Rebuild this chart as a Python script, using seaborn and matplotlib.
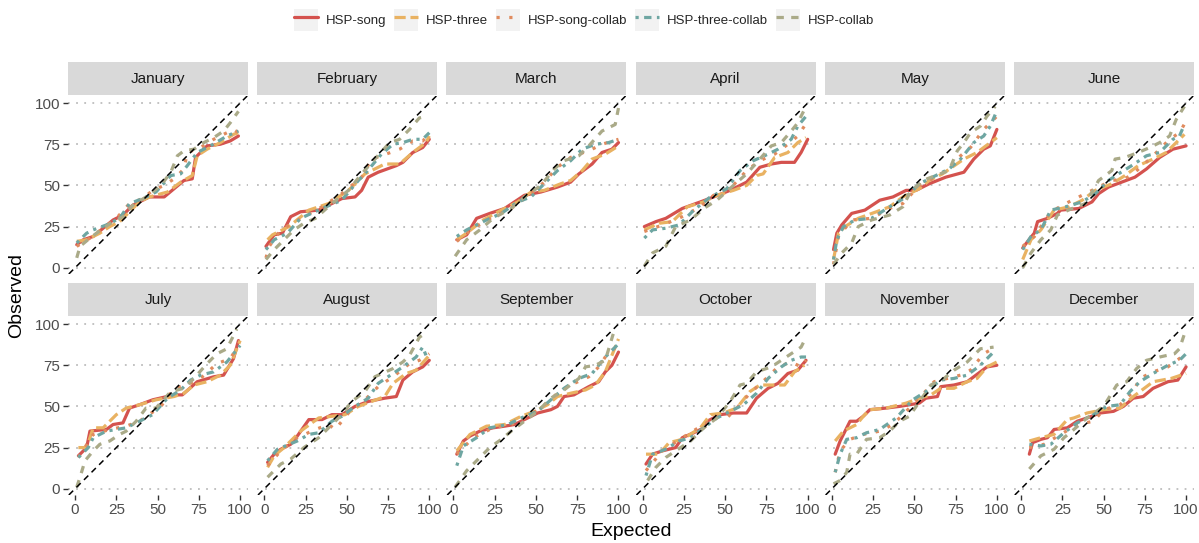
import matplotlib
matplotlib.use("Agg")
import matplotlib.pyplot as plt
import pandas as pd
import seaborn as sns
from matplotlib.lines import Line2D
from matplotlib.patches import Rectangle
from matplotlib.legend_handler import HandlerLine2D

MONTHS = ["January", "February", "March", "April", "May", "June",
          "July", "August", "September", "October", "November", "December"]
SERIES = ["HSP-song", "HSP-three", "HSP-song-collab", "HSP-three-collab", "HSP-collab"]
TICKS = [0, 25, 50, 75, 100]

# (expected, observed) points
SONG = {
    "January": [(1,14),(5,17),(11,19),(17,24),(23,29),(29,32),(35,38),(39,40),(45,43),(54,43),(60,48),(66,53),(71,54),(73,67),(80,74),(88,75),(94,77),(99,80)],
    "February": [(1,13),(6,20),(11,21),(16,31),(22,34),(33,35),(39,38),(47,42),(55,43),(59,47),(63,55),(69,58),(80,62),(84,64),(90,70),(96,73),(100,78)],
    "March": [(2,17),(8,20),(14,30),(22,33),(31,36),(37,40),(43,44),(53,46),(63,49),(71,52),(76,57),(84,63),(90,70),(96,72),(100,76)],
    "April": [(1,25),(8,28),(14,30),(24,36),(35,40),(43,43),(53,47),(63,52),(71,61),(78,63),(84,64),(92,64),(96,70),(100,78)],
    "May": [(1,11),(3,21),(6,26),(12,33),(20,35),(29,41),(37,43),(45,47),(51,47),(59,51),(69,55),(80,58),(86,66),(92,72),(96,74),(100,84)],
    "June": [(1,12),(4,16),(8,21),(10,28),(16,30),(22,33),(24,35),(35,36),(43,40),(47,45),(53,49),(61,52),(69,55),(76,60),(84,67),(92,72),(100,74)],
    "July": [(2,20),(7,25),(9,35),(19,36),(23,39),(29,40),(33,49),(39,51),(47,54),(60,57),(65,57),(74,65),(84,68),(90,69),(96,79),(99,90)],
    "August": [(2,16),(6,21),(10,24),(16,27),(20,32),(27,42),(35,42),(41,45),(47,45),(55,50),(63,53),(73,55),(80,56),(84,66),(90,71),(96,74),(100,78)],
    "September": [(2,21),(6,29),(10,32),(16,35),(24,37),(31,38),(37,39),(45,43),(51,46),(59,48),(63,50),(67,56),(73,57),(82,62),(88,65),(92,71),(96,75),(100,83)],
    "October": [(2,15),(6,21),(12,23),(20,25),(24,31),(31,34),(37,37),(39,41),(47,45),(55,46),(63,46),(69,55),(76,61),(82,64),(88,70),(94,72),(99,78)],
    "November": [(2,21),(5,29),(11,41),(15,41),(19,44),(23,48),(33,49),(41,50),(47,51),(53,52),(57,55),(64,56),(66,62),(74,63),(82,65),(90,71),(94,74),(100,75)],
    "December": [(5,21),(7,28),(12,30),(16,31),(20,36),(28,37),(34,41),(40,43),(48,46),(56,47),(62,50),(68,55),(74,56),(80,61),(89,65),(95,66),(100,74)],
}
THREE = {
    "January": [(1,16),(7,17),(15,21),(21,25),(27,28),(33,34),(39,40),(45,43),(56,46),(64,52),(71,56),(74,68),(80,72),(88,76),(96,81),(99,82)],
    "February": [(2,17),(5,20),(15,25),(27,35),(39,39),(51,47),(61,57),(73,63),(82,63),(90,70),(98,76),(100,80)],
    "March": [(2,17),(8,21),(18,29),(29,35),(39,40),(47,46),(55,47),(65,51),(71,53),(78,59),(84,66),(92,69),(100,74)],
    "April": [(1,23),(10,27),(18,28),(27,37),(37,40),(45,44),(55,47),(63,50),(69,56),(73,57),(80,67),(88,70),(94,76),(99,79)],
    "May": [(1,5),(4,21),(8,25),(16,30),(27,34),(35,37),(43,43),(53,48),(59,53),(67,57),(80,66),(88,70),(96,76),(100,79)],
    "June": [(1,5),(6,17),(12,23),(20,35),(29,37),(37,41),(45,47),(55,51),(63,56),(71,62),(80,66),(88,70),(94,76),(99,81)],
    "July": [(2,25),(7,25),(11,37),(17,37),(25,45),(31,49),(39,51),(49,54),(60,56),(66,58),(72,63),(80,65),(88,69),(94,75),(100,90)],
    "August": [(2,13),(6,20),(12,25),(22,35),(33,43),(41,44),(49,45),(57,50),(65,53),(73,56),(78,64),(86,70),(92,72),(100,81)],
    "September": [(2,23),(10,33),(20,38),(31,39),(41,44),(49,47),(57,51),(63,56),(71,58),(80,60),(86,63),(92,71),(96,81),(100,91)],
    "October": [(2,21),(10,21),(16,28),(24,30),(35,37),(41,45),(49,46),(57,49),(65,59),(71,63),(80,63),(86,63),(92,71),(98,75)],
    "November": [(2,29),(7,35),(15,39),(19,44),(23,48),(33,49),(45,52),(53,55),(60,57),(66,61),(74,61),(82,65),(88,67),(94,74),(100,77)],
    "December": [(5,29),(12,31),(20,33),(28,42),(32,43),(40,46),(50,48),(60,49),(68,56),(80,65),(91,67),(100,70)],
}
SONG_COLLAB = {
    "January": [(1,13),(9,18),(17,24),(25,30),(33,39),(41,42),(47,47),(54,50),(60,54),(66,60),(68,70),(76,73),(84,78),(96,84),(99,82)],
    "February": [(1,6),(3,13),(10,23),(24,31),(35,37),(47,45),(59,55),(65,66),(71,68),(82,72),(90,77),(96,77),(100,81)],
    "March": [(2,16),(12,24),(24,31),(35,36),(47,45),(55,52),(63,61),(71,67),(84,72),(90,75),(100,78)],
    "April": [(1,22),(12,26),(22,30),(35,37),(43,44),(53,48),(63,59),(71,65),(80,69),(88,75),(94,80),(98,86),(100,89)],
    "May": [(1,2),(4,19),(12,29),(24,30),(35,36),(43,39),(53,50),(63,55),(71,60),(78,68),(84,73),(92,84),(96,88),(100,92)],
    "June": [(1,13),(8,19),(18,34),(29,40),(37,44),(47,49),(55,53),(63,54),(69,58),(78,66),(84,72),(90,78),(96,82),(100,89)],
    "July": [(2,19),(11,33),(21,36),(31,38),(39,41),(52,50),(60,61),(68,63),(76,67),(86,76),(94,79),(99,87)],
    "August": [(2,14),(10,23),(20,31),(31,36),(39,39),(43,36),(51,46),(61,54),(69,62),(78,68),(88,76),(94,78),(100,82)],
    "September": [(2,21),(12,31),(24,37),(35,39),(43,43),(53,49),(63,58),(71,63),(82,68),(88,74),(94,83),(99,86)],
    "October": [(2,11),(12,23),(24,31),(37,39),(45,44),(51,43),(57,49),(65,58),(76,68),(82,74),(90,77),(96,74),(99,78)],
    "November": [(2,10),(5,23),(11,30),(19,33),(29,35),(37,39),(45,47),(53,55),(62,65),(70,67),(78,69),(84,72),(92,82),(99,86)],
    "December": [(5,25),(14,27),(24,33),(34,39),(44,41),(50,48),(60,51),(68,59),(72,67),(80,71),(89,74),(100,82)],
}
THREE_COLLAB = {
    "January": [(1,15),(7,21),(11,23),(19,26),(27,30),(33,39),(41,42),(49,46),(58,56),(64,57),(68,62),(74,70),(82,74),(92,80),(99,83)],
    "February": [(1,11),(6,17),(14,21),(22,30),(35,36),(47,41),(57,53),(61,57),(71,69),(78,75),(84,76),(90,78),(96,78),(100,82)],
    "March": [(2,19),(8,23),(20,29),(29,33),(39,40),(47,43),(55,51),(63,59),(71,65),(78,72),(86,75),(94,76),(100,78)],
    "April": [(1,18),(6,23),(14,24),(22,26),(31,35),(41,43),(51,48),(59,59),(67,65),(76,69),(82,72),(90,78),(94,86),(99,92)],
    "May": [(1,5),(3,17),(7,25),(14,29),(24,30),(35,37),(45,43),(53,51),(63,56),(71,60),(78,66),(86,76),(92,80),(96,86),(99,93)],
    "June": [(1,11),(6,19),(12,23),(18,35),(27,37),(37,40),(45,45),(53,53),(59,57),(67,62),(76,68),(84,70),(92,78),(96,80),(99,87)],
    "July": [(2,19),(8,25),(11,31),(19,35),(31,37),(39,41),(47,45),(56,55),(64,60),(70,66),(76,69),(84,71),(92,77),(100,87)],
    "August": [(2,17),(8,24),(20,29),(27,33),(33,34),(41,41),(47,44),(55,50),(63,55),(69,64),(78,70),(84,74),(92,80),(96,86),(98,81)],
    "September": [(2,14),(6,26),(14,31),(22,37),(33,39),(41,43),(51,47),(59,54),(67,61),(76,67),(84,70),(92,80),(96,84),(100,88)],
    "October": [(2,8),(6,21),(14,24),(22,29),(29,31),(37,37),(45,43),(53,47),(61,51),(69,58),(76,67),(84,74),(90,78),(96,80),(99,80)],
    "November": [(2,10),(5,21),(9,30),(15,31),(21,34),(29,36),(39,43),(49,54),(57,59),(66,66),(74,67),(82,69),(90,75),(98,83)],
    "December": [(5,27),(12,26),(18,27),(26,34),(34,40),(44,45),(52,50),(60,51),(66,59),(72,65),(80,70),(89,75),(96,78),(100,82)],
}
COLLAB = {
    "January": [(1,6),(3,13),(9,18),(17,24),(23,28),(29,31),(35,38),(43,43),(52,50),(58,58),(62,68),(66,71),(72,72),(78,76),(84,79),(90,83),(94,88),(99,95)],
    "February": [(1,5),(6,11),(12,17),(18,23),(24,27),(31,30),(41,39),(51,47),(59,57),(67,66),(76,76),(82,78),(88,84),(94,91),(99,92)],
    "March": [(1,7),(8,17),(16,23),(24,30),(35,36),(43,43),(53,50),(61,60),(67,65),(76,68),(82,74),(90,83),(98,87),(100,97)],
    "April": [(1,1),(6,9),(14,13),(20,25),(29,29),(37,36),(45,41),(55,50),(63,57),(71,66),(78,74),(84,76),(90,83),(94,88),(99,98)],
    "May": [(1,2),(6,9),(12,15),(16,25),(24,29),(35,32),(43,37),(47,45),(55,53),(63,56),(71,59),(76,71),(80,76),(84,82),(90,86),(94,92),(99,98)],
    "June": [(1,0),(6,9),(12,17),(18,23),(22,32),(31,36),(39,39),(47,53),(55,59),(57,66),(63,67),(71,70),(78,73),(84,76),(90,80),(94,90),(99,98)],
    "July": [(1,1),(3,7),(6,17),(11,23),(15,27),(21,29),(27,33),(31,35),(37,41),(43,49),(49,49),(58,59),(66,61),(72,67),(80,76),(86,82),(92,85),(98,97)],
    "August": [(2,7),(10,15),(16,18),(24,25),(33,31),(39,37),(47,45),(53,53),(61,59),(67,68),(78,73),(84,77),(88,81),(94,92),(97,94)],
    "September": [(1,1),(8,11),(14,17),(22,25),(29,30),(35,35),(43,41),(51,47),(59,55),(67,60),(76,67),(80,74),(86,75),(92,78),(98,98)],
    "October": [(3,5),(8,13),(14,19),(20,23),(29,29),(37,37),(45,43),(53,53),(59,63),(63,64),(69,71),(78,74),(84,78),(90,82),(96,86),(99,92)],
    "November": [(1,3),(5,5),(9,10),(11,21),(15,21),(21,30),(29,31),(35,35),(41,41),(47,44),(60,63),(68,67),(74,72),(82,77),(90,85),(98,86)],
    "December": [(5,12),(12,20),(20,24),(26,31),(32,36),(40,43),(50,50),(58,63),(64,65),(70,73),(76,78),(84,80),(93,82),(96,85),(100,97)],
}

SERIES_DATA = dict(zip(SERIES, [SONG, THREE, SONG_COLLAB, THREE_COLLAB, COLLAB]))
COLORS = dict(zip(SERIES, ["#D4524E", "#E9B262", "#E08B5E", "#6EA6A2", "#AAAA88"]))
DASHES = dict(zip(SERIES, ["", (3.5, 1.5), (1, 3), (1, 1.7, 2.3, 1.7), (2.3, 2.3)]))

rows = []
for s in SERIES:
    for m in MONTHS:
        for i, (x, y) in enumerate(SERIES_DATA[s][m]):
            rows.append({"month": m, "series": s, "Expected": x, "Observed": y, "order": i})
df = pd.DataFrame(rows)

sns.set_theme(style="white")
plt.rcParams["font.family"] = ["Liberation Sans", "DejaVu Sans"]

fig, axes = plt.subplots(2, 6, figsize=(11.99, 5.43), dpi=100)
fig.subplots_adjust(left=68/1199, right=1194/1199, top=1-96/543, bottom=1-495/543,
                    wspace=0.051, hspace=0.2416)

LW = 2.3
for idx, (ax, m) in enumerate(zip(axes.flat, MONTHS)):
    r, c = divmod(idx, 6)
    sub = df[df["month"] == m]
    sns.lineplot(data=sub, x="Expected", y="Observed", hue="series", style="series",
                 hue_order=SERIES, style_order=SERIES, palette=COLORS, dashes=DASHES,
                 estimator=None, sort=False, lw=LW, legend=False, ax=ax)
    ax.axline((0, 0), (100, 100), color="black", lw=1.1, ls=(0, (4, 3)), zorder=5)
    ax.set_xlim(-4.3, 104.8)
    ax.set_ylim(-3.8, 104.3)
    ax.set_xticks(TICKS)
    ax.set_yticks(TICKS)
    ax.yaxis.grid(True, color="#bdbdbd", lw=1.3, ls=(0, (1, 3.5)))
    ax.xaxis.grid(False)
    ax.set_axisbelow(True)
    for sp in ax.spines.values():
        sp.set_visible(False)
    ax.set_xlabel("")
    ax.set_ylabel("")
    ax.tick_params(axis="y", left=(c == 0), labelleft=(c == 0), length=3.5, width=1,
                   color="#333333", labelcolor="#4d4d4d", labelsize=11, pad=2)
    ax.tick_params(axis="x", bottom=(r == 1), labelbottom=(r == 1), length=3.5, width=1,
                   color="#333333", labelcolor="#4d4d4d", labelsize=11, pad=2)
    h = 33 / 178
    g = 1 / 178
    ax.add_patch(Rectangle((0, 1 + g), 1, h, transform=ax.transAxes, facecolor="#d9d9d9",
                           edgecolor="none", clip_on=False))
    ax.text(0.5, 1 + g + h / 2, m, transform=ax.transAxes, ha="center", va="center",
            fontsize=11, color="#1a1a1a")

fig.text(631/1199, 1 - 532/543, "Expected", ha="center", va="center", fontsize=14, color="black")
fig.text(17/1199, 1 - 295/543, "Observed", ha="center", va="center", rotation=90,
         fontsize=14, color="black")


class KeyHandler(HandlerLine2D):
    def create_artists(self, legend, orig_handle, xdescent, ydescent, width, height,
                       fontsize, trans):
        rect = Rectangle((-xdescent, -ydescent), width, height, facecolor="#f2f2f2",
                         edgecolor="none", transform=trans)
        arts = super().create_artists(legend, orig_handle, xdescent, ydescent, width,
                                      height, fontsize, trans)
        return [rect] + list(arts)


handles = []
for s in SERIES:
    d = DASHES[s]
    ls = "-" if d == "" else (0, d)
    handles.append(Line2D([], [], color=COLORS[s], lw=LW, ls=ls))
fig.legend(handles, SERIES, loc="center", bbox_to_anchor=(584/1199, 1 - 20/543), ncol=5,
           frameon=False, fontsize=9.5, handlelength=1.82, handleheight=2.2,
           handletextpad=0.6, columnspacing=0.6, borderpad=0.1,
           handler_map={Line2D: KeyHandler()})

fig.savefig("out.png", dpi=100)
